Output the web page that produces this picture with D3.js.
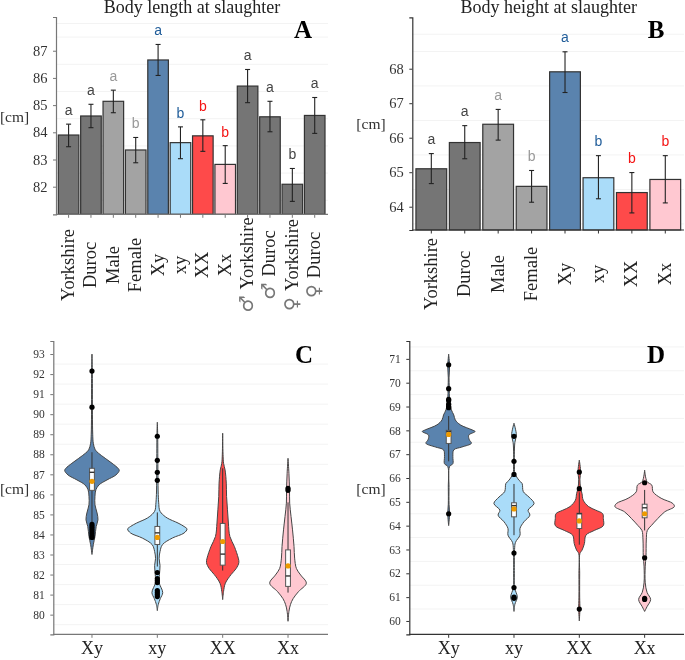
<!DOCTYPE html>
<html><head><meta charset="utf-8">
<script src="https://cdn.jsdelivr.net/npm/d3@7/dist/d3.min.js"></script>
<style>
html,body{margin:0;padding:0;background:#fff}
svg{display:block;font-family:"Liberation Serif",serif;filter:blur(.35px)}
</style></head><body>
<svg id="c" width="685" height="660"></svg>
<script>
// ---------- Panel A ----------
const breedsA = ["Yorkshire","Duroc","Male","Female","Xy","xy","XX","Xx","Yorkshire","Duroc","Yorkshire","Duroc"];
const sexA = ["","","","","","","","","♂","♂","♀","♀"];
const valsA = [83.9,84.6,85.14,83.35,86.66,83.62,83.87,82.82,85.7,84.57,82.09,84.62];
const hiA = [84.3,85.03,85.55,83.81,87.23,84.2,84.46,83.51,86.31,85.14,82.67,85.28];
const loA = [83.47,84.17,84.72,82.88,86.09,83.03,83.3,82.12,85.09,84.02,81.46,83.96];
const lettersA = ["a","a","a","b","a","b","b","b","a","a","b","a"];
const ticksA = [82,83,84,85,86,87];
const gridA = [81.5,82.5,83.5,84.5,85.5,86.5,87.5,88];
// ---------- Panel B ----------
const breedsB = ["Yorkshire","Duroc","Male","Female","Xy","xy","XX","Xx"];
const valsB = [65.1,65.86,66.39,64.59,67.91,64.84,64.41,64.79];
const hiB = [65.54,66.35,66.82,65.05,68.49,65.48,64.99,65.48];
const loB = [64.67,65.39,65.93,64.13,67.31,64.23,63.82,64.11];
const lettersB = ["a","a","a","b","a","b","b","b"];
const ticksB = [64,65,66,67,68];
const gridB = [63.5,64.5,65.5,66.5,67.5,68.5,69];
// ---------- Shared group styling keys ----------
const kindsA = ["d","d","l","l","Xy","xy","XX","Xx","d","d","d","d"];
const kindsB = ["d","d","l","l","Xy","xy","XX","Xx"];
const fills = {d:"#757575",l:"#a3a3a3",Xy:"#5a83ae",xy:"#aadcf9",XX:"#fe4a4a",Xx:"#ffc8d1"};
const letterColors = {d:"#444444",l:"#999999",Xy:"#1f5c99",xy:"#1f5c99",XX:"#f41414",Xx:"#f41414"};
// ---------- Violins ----------
const groups = ["Xy","xy","XX","Xx"];
const ticksC = [80,81,82,83,84,85,86,87,88,89,90,91,92,93];
const gridC = [79.5,80.5,81.5,82.5,83.5,84.5,85.5,86.5,87.5,88.5,89.5,90.5,91.5,92.5];
const ticksD = [60,61,62,63,64,65,66,67,68,69,70,71];
const gridD = [60.5,61.5,62.5,63.5,64.5,65.5,66.5,67.5,68.5,69.5,70.5,71.5];

const profileCXy = [[93,0],[92,.012],[90,.015],[89,.025],[88.55,.045],[88.22,.11],[88.05,.22],[87.8,.44],[87.55,.67],[87.3,.87],[87.19,.91],[86.97,.8],[86.72,.5],[86.48,.24],[86.23,.13],[85.9,.1],[85.48,.1],[85.07,.17],[84.73,.2],[84.4,.14],[83.9,.1],[83.49,.045],[83,0]];
const profileCxy = [[89.6,0],[89,.012],[87,.02],[86,.03],[85.5,.05],[85.23,.07],[85.07,.13],[84.82,.33],[84.57,.69],[84.4,.89],[84.27,.99],[84.07,.89],[83.82,.5],[83.49,.17],[83.15,.09],[82.8,.06],[82.45,.09],[82,.07],[81.6,.06],[81.1,.18],[80.8,.1],[80.5,.03],[80.2,0]];
const profileCXX = [[89.05,0],[88,.012],[87.55,.03],[87.22,.08],[86.56,.12],[85.9,.13],[85.23,.16],[84.57,.19],[83.9,.24],[83.4,.39],[82.82,.52],[82.6,.54],[82.3,.45],[82,.28],[81.57,.09],[81.16,.03],[80.75,0]];
const profileCXx = [[87.8,0],[87.05,.03],[86.2,.05],[85.56,.055],[84.9,.1],[84.23,.15],[83.4,.2],[82.82,.22],[82.3,.28],[81.98,.42],[81.57,.61],[81.15,.35],[80.8,.17],[80.5,.08],[80.16,.03],[79.67,0]];
const profileDXy = [[71.2,0],[70.7,.03],[70.2,.012],[69.8,.02],[69.3,.03],[68.86,.09],[68.65,.17],[68.44,.22],[68.23,.39],[68.02,.78],[67.95,.88],[67.8,.67],[67.6,.69],[67.46,.76],[67.3,.44],[67.18,.17],[66.9,.14],[66.6,.14],[66.48,.03],[65.6,.012],[64.9,.012],[64.5,.03],[64,0]];
const profileDxy = [[68.3,0],[67.8,.08],[67.5,.03],[67,.012],[66.5,.015],[66.2,.03],[65.9,.17],[65.77,.27],[65.43,.31],[65.2,.5],[64.93,.67],[64.65,.47],[64.44,.53],[64.16,.33],[63.88,.2],[63.6,.2],[63.3,.05],[63,.02],[62,.012],[61.4,.02],[61,.11],[60.7,.03],[60.4,0]];
const profileDXX = [[66.75,0],[66.26,.045],[65.95,.02],[65.56,.045],[65.35,.09],[65.07,.13],[64.8,.31],[64.65,.55],[64.5,.78],[64.3,.8],[64,.8],[63.8,.5],[63.6,.22],[63.25,.17],[62.97,.09],[62.83,.02],[62,.012],[61,.012],[60.5,.02],[60,0]];
const profileDXx = [[66.33,0],[65.85,.08],[65.7,.24],[65.42,.28],[65.15,.55],[64.93,.94],[64.8,.99],[64.58,.67],[64.3,.44],[64,.22],[63.8,.09],[63.4,.055],[62.7,.045],[62.3,.02],[61.6,.02],[61.2,.08],[60.9,.2],[60.6,.08],[60.4,0]];

const boxQ3C = [87.3,84.4,84.55,83.23];
const boxQ1C = [86.2,83.5,82.47,81.41];
const medianC = [87.1,84.08,83.02,81.93];
const meanC = [86.65,83.85,83.65,82.43];
const whiskHiC = [88.1,85.1,87.3,85.6];
const whiskLoC = [84.6,82.4,82.2,81.1];
const outliersC = [
  [92.15,90.35,84.5,84.4,84.3,84.2,84.1,84,83.9,83.85],
  [88.9,87.7,87.1,86.7,82.1,81.8,81.7,81.6,81.2,81.1,81,80.9],
  [],
  [86.3,86.2]];
const boxQ3D = [68,64.96,64.52,64.9];
const boxQ1D = [67.45,64.37,63.88,64.33];
const medianD = [67.95,64.84,64.5,64.75];
const meanD = [67.83,64.7,64.2,64.5];
const whiskHiD = [68.6,65.75,65.4,65.5];
const whiskLoD = [66.7,63.6,63.2,63.8];
const outliersD = [
  [70.75,69.75,69.3,69.25,69.1,69,68.95,64.5],
  [67.75,66.7,66.15,62.85,61.4,61,60.95],
  [66.25,65.55,60.5],
  [65.8,62.65,60.95,60.9]];

const svg = d3.select("#c");

function frame(o){
  const y = d3.scaleLinear().domain(o.yDomain).range([o.bottom,o.top]);
  const g = svg.append("g");
  g.selectAll("line.grid").data(o.grid).join("line").attr("class","grid")
    .attr("x1",o.left).attr("x2",o.right).attr("y1",d=>y(d)).attr("y2",d=>y(d))
    .attr("stroke","#f3f3f3").attr("stroke-width",1);
  return {y,g};
}
function axes(o,y,x){
  const ay = svg.append("g").attr("transform",`translate(${o.left},0)`)
    .call(d3.axisLeft(y).tickValues(o.ticks).tickSize(3).tickPadding(5.5).tickFormat(d3.format("d")));
  ay.attr("font-family",null).attr("font-size",null);
  ay.selectAll("text").attr("font-size",o.tickFont).attr("fill","#333");
  ay.selectAll("line").attr("stroke",o.axisColor);
  ay.select(".domain").attr("stroke",o.axisColor).attr("stroke-width",1.2);
  const ax = svg.append("g").attr("transform",`translate(0,${o.bottom})`)
    .call(d3.axisBottom(x).tickSize(3.5).tickFormat(()=>""));
  ax.selectAll("line").attr("stroke",o.axisColor);
  ax.select(".domain").attr("stroke","none");
  svg.append("line").attr("x1",o.left).attr("x2",o.right).attr("y1",o.bottom).attr("y2",o.bottom)
    .attr("stroke",o.axisColor).attr("stroke-width",1.2);
}
function annotate(o){
  if(o.title) svg.append("text").attr("x",o.title[1]).attr("y",13).attr("text-anchor","middle")
    .attr("font-size",18).attr("fill","#222").text(o.title[0]);
  svg.append("text").attr("x",o.panel[1]).attr("y",o.panel[2]).attr("text-anchor","middle")
    .attr("font-size",25).attr("font-weight","bold").attr("fill","#000").text(o.panel[0]);
  svg.append("text").attr("x",o.cm[0]).attr("y",o.cm[1]).attr("text-anchor","middle")
    .attr("font-size",15.5).attr("fill","#333").text("[cm]");
}
function bars(o){
  const {y,g} = frame(o);
  const idx = d3.range(o.vals.length);
  const x = d3.scaleBand().domain(idx).range(o.xRange).paddingInner(.08).paddingOuter(.04);
  const cx = i=>x(i)+x.bandwidth()/2;
  g.selectAll("rect").data(idx).join("rect")
    .attr("x",i=>x(i)).attr("width",x.bandwidth())
    .attr("y",i=>y(o.vals[i])).attr("height",i=>o.bottom-y(o.vals[i]))
    .attr("fill",i=>fills[o.kinds[i]]).attr("stroke","#333").attr("stroke-width",1.2);
  axes(o,y,x);
  const eb = svg.append("g").attr("stroke","#222").attr("stroke-width",1.1);
  idx.forEach(i=>{
    eb.append("line").attr("x1",cx(i)).attr("x2",cx(i)).attr("y1",y(o.hi[i])).attr("y2",y(o.lo[i]));
    [o.hi[i],o.lo[i]].forEach(v=>eb.append("line").attr("x1",cx(i)-2.5).attr("x2",cx(i)+2.5).attr("y1",y(v)).attr("y2",y(v)));
  });
  svg.append("g").selectAll("text").data(idx).join("text")
    .attr("x",cx).attr("y",i=>y(o.hi[i])-o.letterGap)
    .attr("text-anchor","middle").attr("dominant-baseline","central")
    .attr("font-family","Liberation Sans").attr("font-size",14)
    .attr("fill",i=>letterColors[o.kinds[i]]).text(i=>o.letters[i]);
  const lab = svg.append("g").selectAll("text").data(idx).join("text")
    .attr("transform",i=>`translate(${cx(i)+5.5},${o.labelY}) rotate(-90)`)
    .attr("text-anchor","middle").attr("font-size",18.5).attr("fill","#222");
  if(o.sex) lab.filter(i=>o.sex[i]).append("tspan").attr("font-family","DejaVu Sans")
    .attr("font-size",19).attr("fill","#777").text(i=>o.sex[i]+" ");
  lab.append("tspan").text(i=>o.names[i]);
  annotate(o);
}
function violins(o){
  const {y,g} = frame(o);
  const x = d3.scaleBand().domain(groups).range(o.xRange);
  const cx = k=>x(k)+x.bandwidth()/2;
  const w = d3.scaleLinear().domain([0,1]).range([0,30]);
  o.profiles.forEach((p,i)=>{
    const c = cx(groups[i]);
    const area = d3.area().y(d=>y(d[0])).x0(d=>c-w(d[1])).x1(d=>c+w(d[1])).curve(d3.curveCatmullRom.alpha(.5));
    g.append("path").attr("d",area(p)).attr("fill",fills[groups[i]]).attr("stroke","#444").attr("stroke-width",1);
    g.append("line").attr("x1",c).attr("x2",c).attr("y1",y(o.wHi[i])).attr("y2",y(o.wLo[i])).attr("stroke","#333").attr("stroke-width",1);
    g.selectAll(null).data(o.outliers[i]).join("circle").attr("cx",c).attr("cy",d=>y(d)).attr("r",2.6).attr("fill","#000");
    g.append("rect").attr("x",c-2.4).attr("width",4.8).attr("y",y(o.q3[i])).attr("height",y(o.q1[i])-y(o.q3[i]))
      .attr("fill","#fff").attr("stroke","#555").attr("stroke-width",1);
    g.append("line").attr("x1",c-2.4).attr("x2",c+2.4).attr("y1",y(o.med[i])).attr("y2",y(o.med[i])).attr("stroke","#333").attr("stroke-width",1.4);
    g.append("circle").attr("cx",c).attr("cy",y(o.mean[i])).attr("r",2.6).attr("fill","#ee9a00");
  });
  axes(o,y,x);
  svg.append("g").selectAll("text").data(groups).join("text")
    .attr("x",cx).attr("y",o.bottom+20).attr("text-anchor","middle")
    .attr("font-size",18).attr("fill","#222").text(d=>d);
  annotate(o);
}

bars({left:56,right:328,top:17,bottom:214.3,yDomain:[80.985,88.24],ticks:ticksA,grid:gridA,tickFont:14.5,axisColor:"#777",
  xRange:[57.4,325.9],vals:valsA,hi:hiA,lo:loA,letters:lettersA,kinds:kindsA,names:breedsA,sex:sexA,labelY:265,letterGap:14,
  title:["Body length at slaughter",192],panel:["A",303,38],cm:[14.5,121.7]});
bars({left:412.3,right:684,top:17.3,bottom:230,yDomain:[63.325,69.49],ticks:ticksB,grid:gridB,tickFont:14.5,axisColor:"#333",
  xRange:[414.6,682],vals:valsB,hi:hiB,lo:loB,letters:lettersB,kinds:kindsB,names:breedsB,labelY:274,letterGap:14.5,
  title:["Body height at slaughter",548.7],panel:["B",656,38],cm:[371,129]});
violins({left:53.3,right:328,top:341,bottom:634.3,yDomain:[79.02,93.65],ticks:ticksC,grid:gridC,tickFont:11.5,axisColor:"#777",
  xRange:[59.3,320.7],profiles:[profileCXy,profileCxy,profileCXX,profileCXx],q3:boxQ3C,q1:boxQ1C,med:medianC,mean:meanC,wHi:whiskHiC,wLo:whiskLoC,outliers:outliersC,
  panel:["C",304,362.7],cm:[14.5,494]});
violins({left:409.3,right:684,top:341,bottom:634.3,yDomain:[59.44,71.75],ticks:ticksD,grid:gridD,tickFont:11.5,axisColor:"#333",
  xRange:[416,677.3],profiles:[profileDXy,profileDxy,profileDXX,profileDXx],q3:boxQ3D,q1:boxQ1D,med:medianD,mean:meanD,wHi:whiskHiD,wLo:whiskLoD,outliers:outliersD,
  panel:["D",656,362.7],cm:[371,494]});
</script>
</body></html>
